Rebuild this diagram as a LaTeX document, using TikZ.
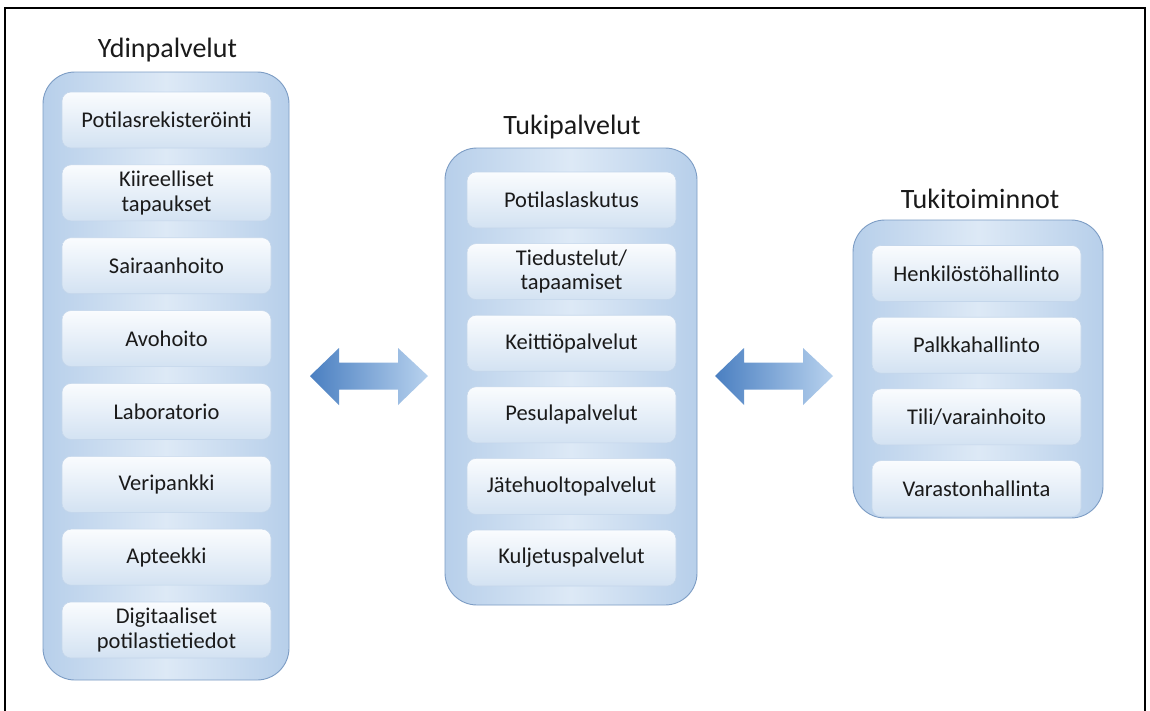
\documentclass[tikz,border=0pt]{standalone}
\usepackage{fontspec}
\setmainfont{Carlito}
\definecolor{paneledge}{HTML}{B7CFEA}
\definecolor{panelmid}{HTML}{DDE9F6}
\definecolor{panelline}{HTML}{7C9CC4}
\definecolor{itemtop}{HTML}{FAFCFE}
\definecolor{itembot}{HTML}{D3E2F2}
\definecolor{itemline}{HTML}{C4D6EB}
\definecolor{textc}{HTML}{1A1A1A}
\definecolor{arrowdark}{HTML}{4A7FC1}
\definecolor{arrowlight}{HTML}{B8D2EE}
\begin{document}
\begin{tikzpicture}[x=1pt,y=-1pt,
  frame/.style={draw=black,line width=2.2pt},
  panel/.style={draw=panelline,line width=0.9pt,rounded corners=32pt,
    left color=paneledge,right color=paneledge,middle color=panelmid,inner sep=0pt},
  item/.style={draw=itemline,line width=0.6pt,rounded corners=9pt,
    top color=itemtop,bottom color=itembot,minimum width=209pt,minimum height=56pt,
    align=center,text=textc,font=\fontsize{22.5}{24.5}\selectfont,inner sep=0pt},
  title/.style={anchor=base,text=textc,font=\fontsize{28}{30}\selectfont,inner sep=0pt},
  bigarrow/.style={left color=arrowdark,right color=arrowlight,draw=none}
]
\useasboundingbox (0,0) rectangle (1150,710);
\clip (0,0) rectangle (1150,710);
\fill[white] (0,0) rectangle (1150,710);

% outer frame (its lower edge lies below the page)
\draw[frame] (5,8) rectangle (1145,730);

% the three panels
\node[panel,minimum width=246pt,minimum height=608pt] (core) at (166,376) {};
\node[panel,minimum width=252pt,minimum height=457pt] (support) at (571,376.5) {};
\node[panel,minimum width=250pt,minimum height=298pt] (admin) at (978,369) {};

% panel titles
\node[title] (coreT) at (167.5,57) {Ydinpalvelut};
\node[title] (supportT) at (572,134) {Tukipalvelut};
\node[title] (adminT) at (980,208) {Tukitoiminnot};

% core services
\foreach \t [count=\i] in {Potilasrekisteröinti,{Kiireelliset\\tapaukset},Sairaanhoito,Avohoito,
    Laboratorio,Veripankki,Apteekki,{Digitaaliset\\potilastietiedot}}
  \node[item] (c\i) at (166.5,{120+72.86*(\i-1)}) {\t};

% support services
\foreach \t [count=\i] in {Potilaslaskutus,{Tiedustelut/\\tapaamiset},Keittiöpalvelut,
    Pesulapalvelut,Jätehuoltopalvelut,Kuljetuspalvelut}
  \node[item] (s\i) at (571.5,{200+71.6*(\i-1)}) {\t};

% support functions
\foreach \t [count=\i] in {Henkilöstöhallinto,Palkkahallinto,Tili/varainhoito,Varastonhallinta}
  \node[item] (a\i) at (976.5,{273.5+71.7*(\i-1)}) {\t};

% double block arrows between the panels
\foreach \a/\b in {310/428,715/833}
  \path[bigarrow] (\a,376) -- (\a+29,348) -- (\a+29,362.5) -- (\b-30,362.5) -- (\b-30,348)
    -- (\b,376) -- (\b-30,405) -- (\b-30,389.5) -- (\a+29,389.5) -- (\a+29,405) -- cycle;
\end{tikzpicture}
\end{document}
